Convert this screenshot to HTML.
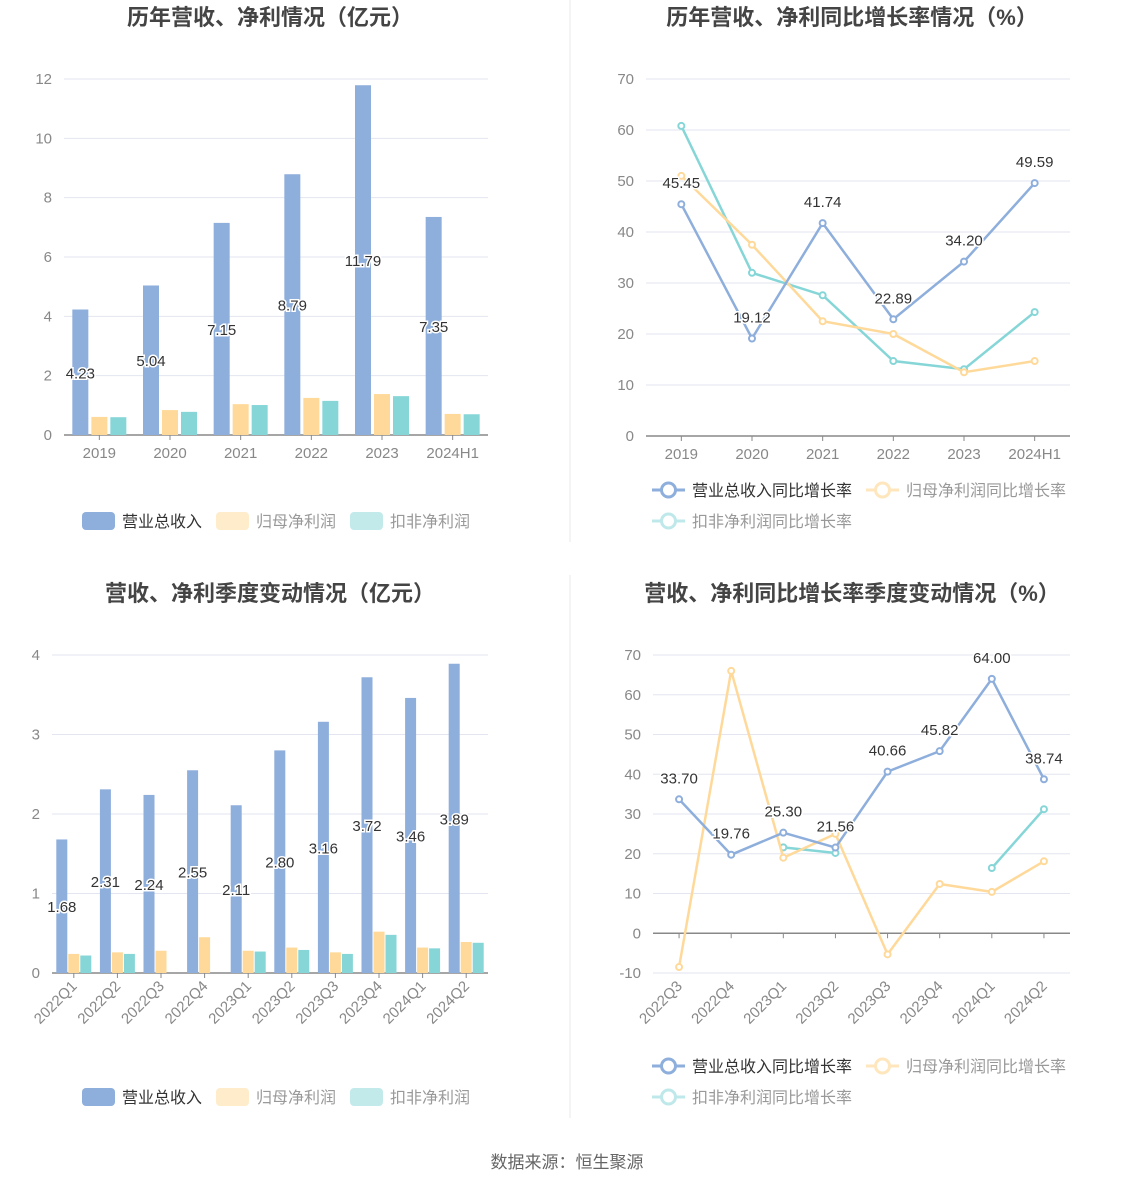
<!DOCTYPE html>
<html><head><meta charset="utf-8"><style>
html,body{margin:0;padding:0;background:#fff;}
svg{display:block;font-family:"Liberation Sans","Noto Sans CJK SC",sans-serif;}
</style></head><body>
<svg id="root" width="1134" height="1188" viewBox="0 0 1134 1188" xmlns="http://www.w3.org/2000/svg">
<line x1="570" y1="0" x2="570" y2="542" stroke="#e8e8e8"/>
<line x1="570" y1="575" x2="570" y2="1118" stroke="#e8e8e8"/>
<text x="567" y="1168" text-anchor="middle" font-size="17" fill="#666">数据来源：恒生聚源</text>
</svg>
<script>
const yearCats = ['2019','2020','2021','2022','2023','2024H1'];
const revAnnual = [4.23,5.04,7.15,8.79,11.79,7.35];
const npAnnual = [0.61,0.84,1.04,1.25,1.38,0.71];
const dnpAnnual = [0.60,0.78,1.01,1.15,1.31,0.70];
const revGrowth = [45.45,19.12,41.74,22.89,34.20,49.59];
const npGrowth = [51.0,37.5,22.5,20.0,12.5,14.7];
const dnpGrowth = [60.8,32.0,27.6,14.7,13.1,24.3];
const qCats = ['2022Q1','2022Q2','2022Q3','2022Q4','2023Q1','2023Q2','2023Q3','2023Q4','2024Q1','2024Q2'];
const revQ = [1.68,2.31,2.24,2.55,2.11,2.80,3.16,3.72,3.46,3.89];
const npQ = [0.24,0.26,0.28,0.45,0.28,0.32,0.26,0.52,0.32,0.39];
const dnpQ = [0.22,0.24,0,0,0.27,0.29,0.24,0.48,0.31,0.38];
const gCats = ['2022Q3','2022Q4','2023Q1','2023Q2','2023Q3','2023Q4','2024Q1','2024Q2'];
const revQG = [33.70,19.76,25.30,21.56,40.66,45.82,64.00,38.74];
const npQG = [-8.5,66.0,19.0,25.0,-5.3,12.4,10.4,18.1];
const dnpQG = [null,null,21.6,20.2,null,null,16.4,31.2];
const yTicks1 = [0,2,4,6,8,10,12];
const yTicks2 = [0,10,20,30,40,50,60,70];
const yTicks3 = [0,1,2,3,4];
const yTicks4 = [-10,0,10,20,30,40,50,60,70];

const NS='http://www.w3.org/2000/svg';
const root=document.getElementById('root');
const BLUE='#8eaedc',ORANGE='#ffd99a',TEAL='#86d6d8';
function mk(tag,attrs,parent){const e=document.createElementNS(NS,tag);for(const k in attrs)e.setAttribute(k,attrs[k]);(parent||root).appendChild(e);return e;}

function axes(g,c,ticks,cats,rot){
  const y=v=>c.y0-(v-c.min)/(c.max-c.min)*(c.y0-c.y1);
  ticks.forEach(t=>{
    const gl=mk('line',{x1:c.x0,x2:c.x1,y1:y(t),y2:y(t),stroke:'#e3e6f0'},g);
    
    
    const tl=mk('text',{x:c.x0-12,y:y(t)+5,'text-anchor':'end','font-size':15,fill:'#888'},g);
    tl.textContent=t;
    
    
  });
  const zy=y(Math.max(0,c.min));
  const ax=mk('line',{x1:c.x0,x2:c.x1,y1:zy,y2:zy,stroke:'#888','stroke-width':1.5},g);
  
  
  const bw=(c.x1-c.x0)/cats.length;
  cats.forEach((cat,i)=>{
    const cx=c.x0+bw*(i+0.5);
    const tk=mk('line',{x1:cx,x2:cx,y1:zy,y2:zy+5,stroke:'#888'},g);
    
    
    let t;
    if(rot){t=mk('text',{x:cx+4,y:c.y0+14,'text-anchor':'end','font-size':15,fill:'#888',transform:`rotate(-45 ${cx+4} ${c.y0+14})`},g);}
    else{t=mk('text',{x:cx,y:zy+23,'text-anchor':'middle','font-size':15,fill:'#888'},g);}
    t.textContent=cat;
    
    
  });
  return {y,bw};
}
function label(g,x,yy,txt){
  const t=mk('text',{x:x,y:yy,'text-anchor':'middle','font-size':15,fill:'#333',stroke:'#fff','stroke-width':3,'paint-order':'stroke'},g);
  t.textContent=txt;
  
  
}
function title(x,y,txt){
  const t=mk('text',{x:x,y:y,'text-anchor':'middle','font-size':22,'font-weight':'bold',fill:'#444'});
  t.textContent=txt;
  
  
}
function barChart(c,cats,series,ticks,bwid,gap,rot,name){
  const g=mk('g',{});
  
  
  const {y,bw}=axes(g,c,ticks,cats,rot);
  const cols=[BLUE,ORANGE,TEAL];
  cats.forEach((cat,i)=>{
    const cx=c.x0+bw*(i+0.5);
    const start=cx-(3*bwid+2*gap)/2;
    series.forEach((s,k)=>{
      const v=s[i];if(!v)return;
      const r=mk('rect',{x:start+k*(bwid+gap),y:y(v),width:bwid,height:y(0)-y(v),fill:cols[k]},g);
      
      
    });
    const v=series[0][i];
    label(g,start+bwid/2,(y(v)+y(0))/2+6,v.toFixed(2));
  });
}
function lineChart(c,cats,series,ticks,rot,name){
  const g=mk('g',{});
  
  
  const {y,bw}=axes(g,c,ticks,cats,rot);
  const cols=[BLUE,ORANGE,TEAL];
  [2,1,0].forEach(k=>{
    const s=series[k];
    let segs=[],cur=[];
    s.forEach((v,i)=>{if(v===null){if(cur.length)segs.push(cur);cur=[];}else cur.push([c.x0+bw*(i+0.5),y(v)]);});
    if(cur.length)segs.push(cur);
    segs.forEach(sg=>{
      const p=mk('polyline',{points:sg.map(p=>p.join(',')).join(' '),fill:'none',stroke:cols[k],'stroke-width':2.5},g);
      
      
      sg.forEach(pt=>{
        const ci=mk('circle',{cx:pt[0],cy:pt[1],r:3,fill:'#fff',stroke:cols[k],'stroke-width':2},g);
        
        
      });
    });
  });
  series[0].forEach((v,i)=>label(g,c.x0+bw*(i+0.5),y(v)-16,v.toFixed(2)));
}
function barLegend(y){
  const g=mk('g',{});
  
  
  const items=[['营业总收入','#8eaedc','#333',82],['归母净利润','#ffeccb','#999',216],['扣非净利润','#c3eaeb','#999',350]];
  items.forEach(it=>{
    const r=mk('rect',{x:it[3],y:y-9,width:33,height:18,rx:4,fill:it[1]},g);
    
    
    const t=mk('text',{x:it[3]+40,y:y+6,'font-size':16,fill:it[2]},g);
    t.textContent=it[0];
    
    
  });
}
function lineLegend(y){
  const g=mk('g',{});
  
  
  const items=[['营业总收入同比增长率','#8eaedc','#333',652,y],['归母净利润同比增长率','#ffe6bd','#999',866,y],['扣非净利润同比增长率','#bfe8ea','#999',652,y+31]];
  items.forEach(it=>{
    const l=mk('line',{x1:it[3],x2:it[3]+33,y1:it[4],y2:it[4],stroke:it[1],'stroke-width':3},g);
    
    
    const ci=mk('circle',{cx:it[3]+16.5,cy:it[4],r:7,fill:'#fff',stroke:it[1],'stroke-width':3},g);
    
    
    const t=mk('text',{x:it[3]+40,y:it[4]+6,'font-size':16,fill:it[2]},g);
    t.textContent=it[0];
    
    
  });
}
title(270,25,'历年营收、净利情况（亿元）');
title(852,25,'历年营收、净利同比增长率情况（%）');
title(270,601,'营收、净利季度变动情况（亿元）');
title(852,601,'营收、净利同比增长率季度变动情况（%）');
barChart({x0:64,x1:488,y0:435,y1:79,min:0,max:12},yearCats,[revAnnual,npAnnual,dnpAnnual],yTicks1,16,3,false,'annual-bar-chart');
lineChart({x0:646,x1:1070,y0:436,y1:79,min:0,max:70},yearCats,[revGrowth,npGrowth,dnpGrowth],yTicks2,false,'annual-growth-chart');
barChart({x0:52,x1:488,y0:973,y1:655,min:0,max:4},qCats,[revQ,npQ,dnpQ],yTicks3,11,1,true,'quarterly-bar-chart');
lineChart({x0:653,x1:1070,y0:973,y1:655,min:-10,max:70},gCats,[revQG,npQG,dnpQG],yTicks4,true,'quarterly-growth-chart');
barLegend(521);
barLegend(1097);
lineLegend(490);
lineLegend(1066);
</script>
</body></html>
